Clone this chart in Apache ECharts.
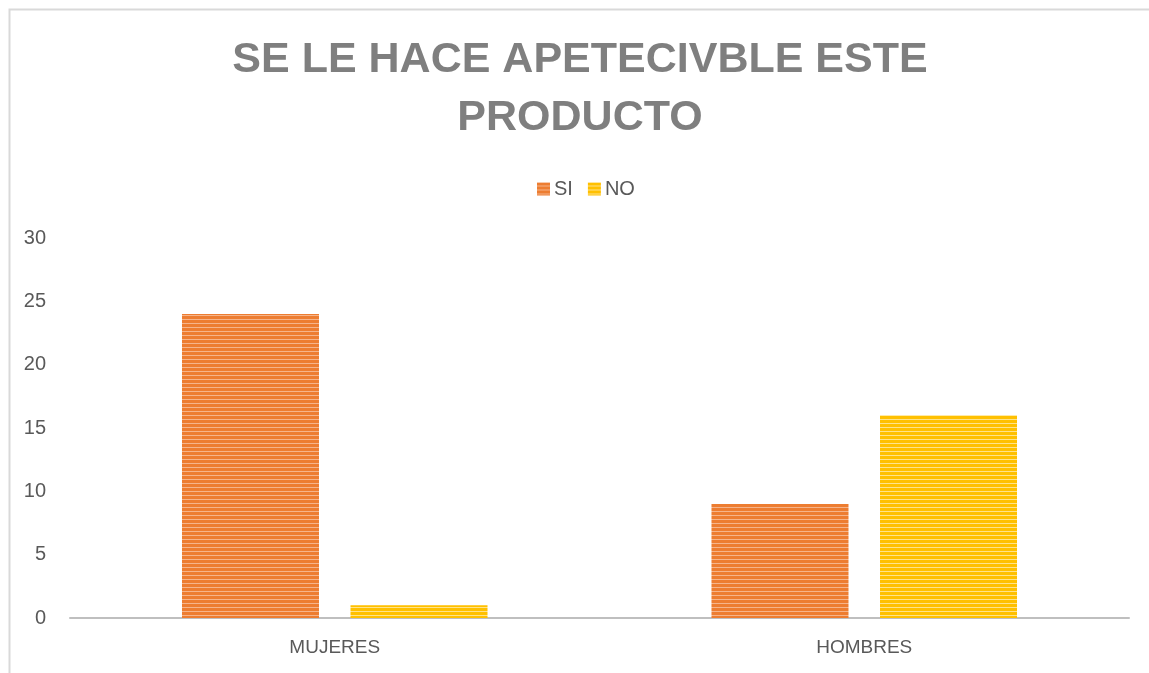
<!DOCTYPE html>
<html>
<head>
<meta charset="utf-8">
<script src="https://cdn.jsdelivr.net/npm/echarts@6/dist/echarts.min.js"></script>
<style>
  html, body { margin: 0; padding: 0; background: #fff; }
  #chart { width: 1149px; height: 673px; }
</style>
</head>
<body>
<div id="chart"></div>
<script>
  var categories = ['MUJERES', 'HOMBRES'];
  var siValues = [24, 9];
  var noValues = [1, 16];
  var yTicks = [0, 30, 5]; // min, max, interval

  // striped fill like the original bars
  function stripes(base, light) {
    var c = document.createElement('canvas');
    c.width = 4;
    c.height = 4;
    var ctx = c.getContext('2d');
    ctx.fillStyle = base;
    ctx.fillRect(0, 0, 4, 3);
    ctx.fillStyle = light;
    ctx.fillRect(0, 3, 4, 1);
    return {image: c, repeat: 'repeat'};
  }

  var orange = stripes('#ED7D31', '#F6B48A');
  var yellow = stripes('#FFC000', '#FFE38A');
  var font = 'Liberation Sans';

  var option = {
    animation: false,
    backgroundColor: '#fff',
    title: {
      text: 'SE LE HACE APETECIVBLE ESTE\nPRODUCTO',
      left: 575,
      top: 26,
      textAlign: 'center',
      textStyle: {
        fontFamily: font,
        fontSize: 43,
        fontWeight: 'bold',
        color: '#7f7f7f',
        lineHeight: 58
      }
    },
    legend: {
      left: 532,
      top: 174,
      itemWidth: 13,
      itemHeight: 13,
      itemGap: 15,
      icon: 'rect',
      data: ['SI', 'NO'],
      textStyle: {fontFamily: font, fontSize: 20, color: '#595959', padding: [0, 0, 0, -1]}
    },
    grid: {left: 70, right: 20, top: 238, bottom: 55, containLabel: false},
    xAxis: {
      type: 'category',
      data: categories,
      axisLine: {lineStyle: {color: '#bfbfbf', width: 2}},
      axisTick: {show: false},
      axisLabel: {fontFamily: font, fontSize: 19, color: '#595959', margin: 20},
      splitLine: {show: false}
    },
    yAxis: {
      type: 'value',
      min: yTicks[0],
      max: yTicks[1],
      interval: yTicks[2],
      axisLine: {show: false},
      axisTick: {show: false},
      splitLine: {show: false},
      axisLabel: {fontFamily: font, fontSize: 20, color: '#595959', margin: 24}
    },
    series: [
      {name: 'SI', type: 'bar', data: siValues, barWidth: 137, barGap: '23%', itemStyle: {color: orange}},
      {name: 'NO', type: 'bar', data: noValues, barWidth: 137, barGap: '23%', itemStyle: {color: yellow}}
    ],
    graphic: [
      {
        type: 'rect',
        left: 7,
        top: 7,
        shape: {width: 1200, height: 720},
        style: {fill: 'none', stroke: '#d9d9d9', lineWidth: 2},
        silent: true
      }
    ]
  };

  echarts.init(document.getElementById('chart')).setOption(option);
</script>
</body>
</html>
